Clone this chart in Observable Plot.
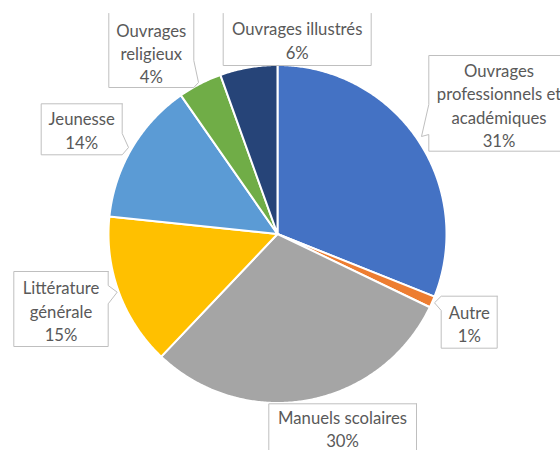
<!DOCTYPE html>
<html><head><meta charset="utf-8">
<script src="https://cdn.jsdelivr.net/npm/d3@7"></script>
<script src="https://cdn.jsdelivr.net/npm/@observablehq/plot@0.6"></script>
<style>body{margin:0;background:#fff} svg{display:block}</style>
</head><body><div id="chart"></div>
<script>
// ---- data ----
const categories = ["Ouvrages professionnels et académiques", "Autre", "Manuels scolaires", "Littérature générale", "Jeunesse", "Ouvrages religieux", "Ouvrages illustrés"];
const values = [31.1, 1.1, 30.0, 14.6, 13.7, 4.2, 5.5];
const pctLabels = ["31%", "1%", "30%", "15%", "14%", "4%", "6%"];
const colors = ["#4472C4", "#ED7D31", "#A5A5A5", "#FFC000", "#5B9BD5", "#70AD47", "#264478"];
const labelLines = ["Ouvrages\nprofessionnels et\nacadémiques", "Autre", "Manuels scolaires", "Littérature\ngénérale", "Jeunesse", "Ouvrages\nreligieux", "Ouvrages illustrés"];

// ---- layout ----
const W = 560, H = 450, CX = 277, CY = 233.5, R = 169;
const boxes = [
  {x0: 428.3, y0: 55, x1: 585, y1: 150.7, open: false, left: {a: 104, tip: [421, 136], b: 134}, tx: 498.5, ty: 104},
  {x0: 440.7, y0: 295.7, x1: 496.7, y1: 347.7, open: false, left: {a: 295.7, tip: [434, 302.3], b: 310}, tx: 468.8, ty: 322.3},
  {x0: 268.3, y0: 403.3, x1: 416, y1: 470, open: false, tx: 342, ty: 427.5},
  {x0: 13.3, y0: 271, x1: 107.7, y1: 346, open: false, right: {a: 285, tip: [116.7, 291.7], b: 303.3}, tx: 60.5, ty: 309.7},
  {x0: 40.7, y0: 103.3, x1: 121.7, y1: 154.3, open: false, right: {a: 133, tip: [128, 147], b: 154.3}, tx: 81.2, ty: 129},
  {x0: 108.3, y0: 13, x1: 193.3, y1: 87, open: true, right: {a: 60, tip: [198, 82], b: 87}, tx: 150.8, ty: 52},
  {x0: 222.7, y0: 13, x1: 370.7, y1: 65, open: true, tx: 296.7, ty: 39}
];

// ---- pie geometry from values ----
const arcs = d3.pie().sort(null).value(d => d).startAngle(0).endAngle(2 * Math.PI)(values);
const pt = a => ({x: CX + R * Math.sin(a), y: CY - R * Math.cos(a)});
const slices = arcs.map((a, i) => {
  const n = Math.max(2, Math.ceil((a.endAngle - a.startAngle) / (Math.PI / 360)));
  const pts = [{x: CX, y: CY}];
  for (let k = 0; k <= n; k++) pts.push(pt(a.startAngle + (a.endAngle - a.startAngle) * k / n));
  pts.push({x: CX, y: CY});
  return {pts, color: colors[i], name: categories[i]};
});

function boxPath(b) {
  const p = [];
  p.push({x: b.x1, y: b.y0});
  if (b.right) { p.push({x: b.x1, y: b.right.a}, {x: b.right.tip[0], y: b.right.tip[1]}, {x: b.x1, y: b.right.b}); }
  p.push({x: b.x1, y: b.y1}, {x: b.x0, y: b.y1});
  if (b.left) { p.push({x: b.x0, y: b.left.b}, {x: b.left.tip[0], y: b.left.tip[1]}, {x: b.x0, y: b.left.a}); }
  p.push({x: b.x0, y: b.y0});
  if (!b.open) p.push({x: b.x1, y: b.y0});
  return p;
}

const labels = boxes.map((b, i) => ({x: b.tx, y: b.ty, text: labelLines[i] + "\n" + pctLabels[i]}));

const chart = Plot.plot({
  width: W, height: H, margin: 0,
  x: {domain: [0, W], range: [0, W], axis: null},
  y: {domain: [0, H], range: [0, H], axis: null},
  style: {background: "white"},
  marks: [
    ...slices.map(s => Plot.line(s.pts, {x: "x", y: "y", fill: s.color, stroke: "white", strokeWidth: 2, strokeLinejoin: "round", curve: "linear"})),
    ...boxes.map(b => Plot.line(boxPath(b), {x: "x", y: "y", fill: "white", stroke: "#BFBFBF", strokeWidth: 1, curve: "linear"})),
    Plot.text(labels, {x: "x", y: "y", text: "text", fill: "#595959", fontFamily: "Lato", fontSize: 16.7, lineHeight: 1.4, textAnchor: "middle"})
  ]
});
document.getElementById("chart").appendChild(chart);
</script>
</body></html>
